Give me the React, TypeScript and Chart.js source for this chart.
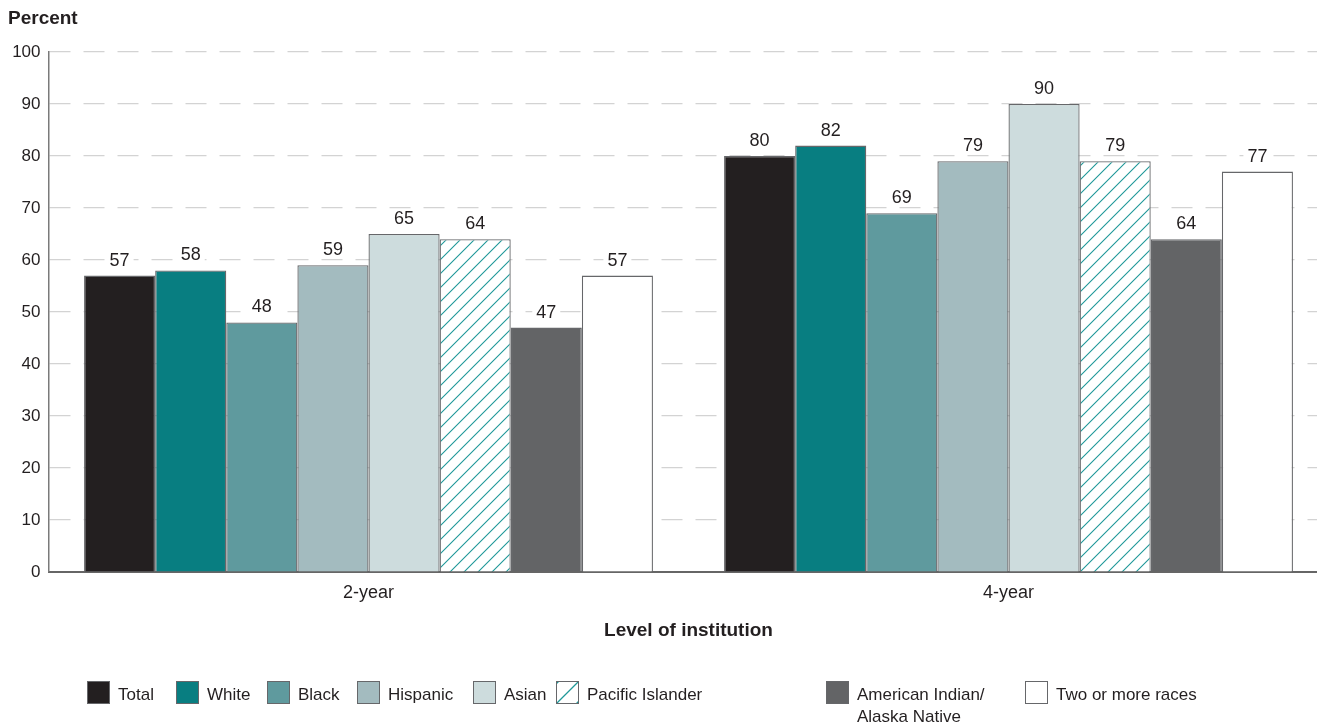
import React, { useEffect, useRef } from "react";
import { Chart, registerables } from "chart.js";

Chart.register(...registerables);

// Level of institution groups
const categories = ["2-year", "4-year"];

// Percent by race/ethnicity
const totalValues = [57, 80];
const whiteValues = [58, 82];
const blackValues = [48, 69];
const hispanicValues = [59, 79];
const asianValues = [65, 90];
const pacificValues = [64, 79];
const amIndianValues = [47, 64];
const twoOrMoreValues = [57, 77];

const seriesNames = [
  "Total",
  "White",
  "Black",
  "Hispanic",
  "Asian",
  "Pacific Islander",
  "American Indian/Alaska Native",
  "Two or more races",
];

// Legend captions (line breaks as drawn)
const legendLines = [
  ["Total"],
  ["White"],
  ["Black"],
  ["Hispanic"],
  ["Asian"],
  ["Pacific Islander"],
  ["American Indian/", "Alaska Native"],
  ["Two or more races"],
];

const yMin = 0;
const yMax = 100;
const yStep = 10;

const FONT = "'Liberation Sans', Arial, sans-serif";
const TEXT = "#231f20";
const EDGE = "#66676a";
const HATCH = "#1f9899";

const fills = ["#231f20", "#087e81", "#5f9a9e", "#a3bbbf", "#cddcdd", "hatch", "#636466", "#ffffff"];

function makeHatch(): CanvasPattern | string {
  const size = 14;
  const c = document.createElement("canvas");
  c.width = size;
  c.height = size;
  const g = c.getContext("2d");
  if (!g) return "#ffffff";
  g.fillStyle = "#ffffff";
  g.fillRect(0, 0, size, size);
  g.strokeStyle = HATCH;
  g.lineWidth = 1.1;
  g.beginPath();
  g.moveTo(-1, size + 1);
  g.lineTo(size + 1, -1);
  g.moveTo(-2, 2);
  g.lineTo(2, -2);
  g.moveTo(size - 2, size + 2);
  g.lineTo(size + 2, size - 2);
  g.stroke();
  const p = g.createPattern(c, "repeat");
  return p || "#ffffff";
}

// value labels with a white backing box above each bar
const valueLabels = {
  id: "valueLabels",
  afterDatasetsDraw(chart: any) {
    const ctx = chart.ctx;
    ctx.save();
    ctx.font = `18px ${FONT}`;
    ctx.textAlign = "center";
    ctx.textBaseline = "alphabetic";
    chart.data.datasets.forEach((ds: any, i: number) => {
      const meta = chart.getDatasetMeta(i);
      meta.data.forEach((el: any, j: number) => {
        const t = String(ds.data[j]);
        const w = ctx.measureText(t).width;
        const base = el.y - 10;
        ctx.fillStyle = "#ffffff";
        ctx.fillRect(el.x - w / 2 - 4, base - 15, w + 8, 18);
        ctx.fillStyle = TEXT;
        ctx.fillText(t, el.x, base);
      });
    });
    ctx.restore();
  },
};

// y-axis caption and the legend row below the chart
const extras = {
  id: "extras",
  afterDraw(chart: any) {
    const ctx = chart.ctx;
    ctx.save();
    ctx.fillStyle = TEXT;
    ctx.font = `bold 19px ${FONT}`;
    ctx.textAlign = "left";
    ctx.textBaseline = "alphabetic";
    ctx.fillText("Percent", 8, 24);

    const boxX = [87, 176, 267, 357, 473, 556, 826, 1025];
    const boxTop = 681;
    const box = 23;
    ctx.font = `17px ${FONT}`;
    chart.data.datasets.forEach((ds: any, i: number) => {
      const x = boxX[i];
      ctx.fillStyle = fills[i] === "hatch" ? "#ffffff" : fills[i];
      ctx.fillRect(x, boxTop, box, box);
      if (fills[i] === "hatch") {
        ctx.save();
        ctx.beginPath();
        ctx.rect(x, boxTop, box, box);
        ctx.clip();
        ctx.strokeStyle = HATCH;
        ctx.lineWidth = 1.3;
        ctx.beginPath();
        ctx.moveTo(x, boxTop + box);
        ctx.lineTo(x + box, boxTop);
        ctx.moveTo(x - 1, boxTop + 4);
        ctx.lineTo(x + 4, boxTop - 1);
        ctx.moveTo(x + box - 4, boxTop + box + 1);
        ctx.lineTo(x + box + 1, boxTop + box - 4);
        ctx.stroke();
        ctx.restore();
      }
      ctx.strokeStyle = EDGE;
      ctx.lineWidth = 1;
      ctx.strokeRect(x + 0.5, boxTop + 0.5, box - 1, box - 1);
      ctx.fillStyle = TEXT;
      legendLines[i].forEach((line, k) => {
        ctx.fillText(line, x + 31, 700 + k * 22);
      });
    });
    ctx.restore();
  },
};

export default function App() {
  const ref = useRef<HTMLCanvasElement | null>(null);

  useEffect(() => {
    if (!ref.current) return;
    const hatch = makeHatch();
    const seriesValues = [
      totalValues,
      whiteValues,
      blackValues,
      hispanicValues,
      asianValues,
      pacificValues,
      amIndianValues,
      twoOrMoreValues,
    ];
    const chart = new Chart(ref.current, {
      type: "bar",
      data: {
        labels: categories,
        datasets: seriesNames.map((name, i) => ({
          label: name,
          data: seriesValues[i],
          backgroundColor: fills[i] === "hatch" ? hatch : fills[i],
          borderColor: EDGE,
          borderWidth: 1.3,
          categoryPercentage: 8 / 9,
          barPercentage: 1,
        })),
      },
      options: {
        responsive: false,
        animation: false,
        layout: { padding: { top: 52, left: 0, right: 11.5, bottom: 85 } },
        plugins: {
          legend: { display: false },
          tooltip: { enabled: false },
        },
        scales: {
          x: {
            grid: { display: false, drawTicks: false },
            border: { display: true, color: "#666666", width: 2 },
            ticks: { color: TEXT, font: { family: FONT, size: 18 }, padding: 10 },
            title: {
              display: true,
              text: "Level of institution",
              color: TEXT,
              font: { family: FONT, size: 19, weight: "bold" },
              padding: { top: 0, bottom: 0 },
            },
            afterFit(scale: any) {
              scale.height = 70;
            },
          },
          y: {
            min: yMin,
            max: yMax,
            grid: { color: "#d3d3d3", lineWidth: 1.2, drawTicks: false },
            border: { display: true, color: "#7a7a7a", width: 1.5, dash: [21, 13] },
            ticks: {
              stepSize: yStep,
              color: TEXT,
              font: { family: FONT, size: 17 },
              padding: 8,
            },
            afterFit(scale: any) {
              scale.width = 48.5;
            },
          },
        },
      },
      plugins: [valueLabels, extras],
    });
    return () => chart.destroy();
  }, []);

  return (
    <div
      style={{
        position: "fixed",
        left: 0,
        top: 0,
        width: 1317,
        height: 727,
        overflow: "hidden",
        background: "#ffffff",
      }}
    >
      <canvas ref={ref} width={1340} height={727} style={{ display: "block" }} />
    </div>
  );
}
